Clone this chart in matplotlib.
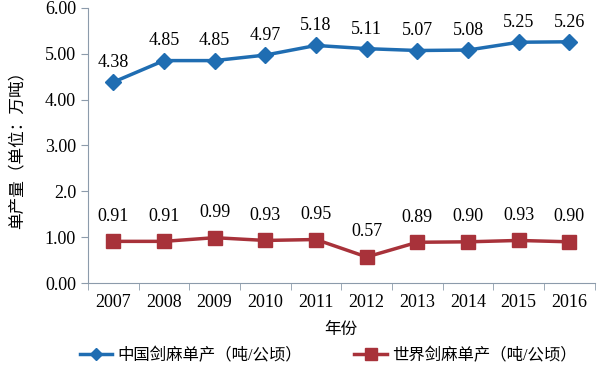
import numpy as np
import matplotlib.pyplot as plt

plt.rcParams['font.family'] = ['Liberation Serif', 'Noto Sans CJK SC']

years = ['2007', '2008', '2009', '2010', '2011', '2012', '2013', '2014', '2015', '2016']
china = [4.38, 4.85, 4.85, 4.97, 5.18, 5.11, 5.07, 5.08, 5.25, 5.26]
world = [0.91, 0.91, 0.99, 0.93, 0.95, 0.57, 0.89, 0.90, 0.93, 0.90]
yticks = [0, 1, 2, 3, 4, 5, 6]
ytick_labels = ['0.00', '1.00', '2.0', '3.00', '4.00', '5.00', '6.00']

blue = '#1f6db2'
red = '#a8323a'

fig = plt.figure(figsize=(6.02, 3.73), dpi=100)
ax = fig.add_axes([0.146, 0.241, 0.842, 0.738])

x = np.arange(len(years))
ax.plot(x, china, color=blue, lw=2.5, marker='D', ms=8, label='中国剑麻单产（吨/公顷）')
ax.plot(x, world, color=red, lw=2.5, marker='s', ms=10, label='世界剑麻单产（吨/公顷）')

for i in range(len(x)):
    ax.annotate('%.2f' % china[i], (x[i], china[i]), xytext=(0, 8), textcoords='offset points',
                ha='center', va='bottom', fontsize=13)
    ax.annotate('%.2f' % world[i], (x[i], world[i]), xytext=(0, 12), textcoords='offset points',
                ha='center', va='bottom', fontsize=13)

ax.set_xlim(-0.5, len(years) - 0.5)
ax.set_ylim(0, 6)
ax.set_xticks(x)
ax.set_xticklabels(years, fontsize=13)
ax.set_xticks(np.arange(len(years) + 1) - 0.5, minor=True)
ax.tick_params(axis='x', which='major', length=0, pad=8)
ax.tick_params(axis='x', which='minor', length=5, color='#8c9bab', direction='out')
ax.set_yticks(yticks)
ax.set_yticklabels(ytick_labels, fontsize=13)
ax.tick_params(axis='y', length=5, color='#8c9bab', direction='out')

for s in ['top', 'right']:
    ax.spines[s].set_visible(False)
for s in ['left', 'bottom']:
    ax.spines[s].set_color('#8c9bab')

ax.set_xlabel('年份', fontsize=12, fontweight='medium', labelpad=8)
ax.set_ylabel('单产量（单位：万吨）', fontsize=12, labelpad=14)

leg_handles = [
    plt.Line2D([], [], color=blue, lw=2.5, marker='D', ms=6),
    plt.Line2D([], [], color=red, lw=2.5, marker='s', ms=8),
]
fig.legend(leg_handles, ['中国剑麻单产（吨/公顷）', '世界剑麻单产（吨/公顷）'],
           loc='lower center', bbox_to_anchor=(0.545, -0.015), ncol=2, frameon=False,
           fontsize=11.8, handlelength=2.0, handletextpad=0.3, columnspacing=3.2)

fig.savefig('out.png', dpi=100)
